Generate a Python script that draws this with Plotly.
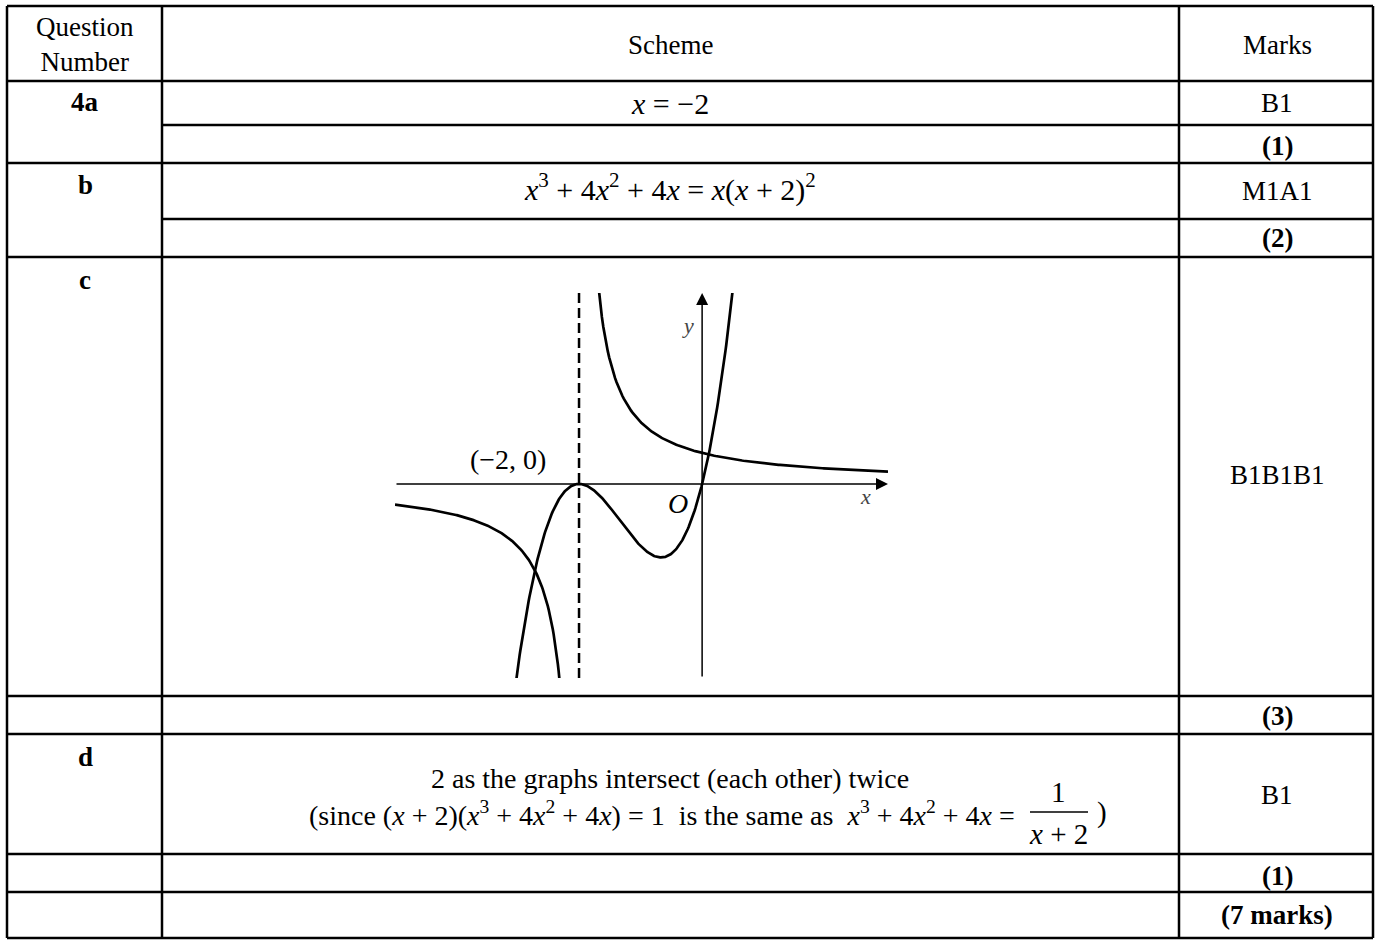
import numpy as np
import plotly.graph_objects as go

# page size in pixels
W, H = 1377, 940

header = ["Question<br>Number", "Scheme", "Marks"]
parts = ["4a", "b", "c", "d"]
marks = ["B1", "M1A1", "B1B1B1", "B1"]
subtotals = ["(1)", "(2)", "(3)", "(1)"]
total = "(7 marks)"

answer_a = "<i>x</i> = −2"
answer_b = "<i>x</i><sup>3</sup> + 4<i>x</i><sup>2</sup> + 4<i>x</i> = <i>x</i>(<i>x</i> + 2)<sup>2</sup>"
answer_d1 = "2 as the graphs intersect (each other) twice"
answer_d2 = ("(since (<i>x</i> + 2)(<i>x</i><sup>3</sup> + 4<i>x</i><sup>2</sup> + 4<i>x</i>) = 1 "
             " is the same as  <i>x</i><sup>3</sup> + 4<i>x</i><sup>2</sup> + 4<i>x</i> = ")

# sketch in part c: y = x(x+2)^2 and y = 1/(x+2), asymptote x = -2
x_cubic = np.linspace(-3.1, 0.55, 300)
y_cubic = x_cubic * (x_cubic + 2) ** 2
x_hyp_left = np.linspace(-4.99, -2.29, 200)
x_hyp_right = np.linspace(-1.70, 3.02, 200)
touch_point = (-2, 0)

x_range = [-4.99, 3.02]
y_range = [-3.13, 3.08]

FONT = "Liberation Serif, Times New Roman, serif"


def px(x):
    return x / W


def py(y):
    return 1 - y / H


fig = go.Figure()

line = dict(color="black", width=2.7)
fig.add_trace(go.Scatter(x=x_cubic, y=y_cubic, mode="lines", line=line))
fig.add_trace(go.Scatter(x=x_hyp_left, y=1 / (x_hyp_left + 2), mode="lines", line=line))
fig.add_trace(go.Scatter(x=x_hyp_right, y=1 / (x_hyp_right + 2), mode="lines", line=line))
fig.add_trace(go.Scatter(x=[touch_point[0]] * 2, y=y_range, mode="lines",
                         line=dict(color="black", width=2.5, dash="10px,5px")))

anns = []
# axes with arrows
anns.append(dict(x=x_range[1], y=0, ax=x_range[0], ay=0, xref="x", yref="y", axref="x", ayref="y",
                 text="", showarrow=True, arrowhead=2, arrowsize=1.6, arrowwidth=1.5, arrowcolor="black"))
anns.append(dict(x=0, y=y_range[1], ax=0, ay=y_range[0], xref="x", yref="y", axref="x", ayref="y",
                 text="", showarrow=True, arrowhead=2, arrowsize=1.6, arrowwidth=1.5, arrowcolor="black"))
anns.append(dict(x=-3.15, y=0.39, xref="x", yref="y", text="(−2, 0)", showarrow=False,
                 font=dict(family=FONT, size=28, color="black")))
anns.append(dict(x=-0.39, y=-0.31, xref="x", yref="y", text="<i>O</i>", showarrow=False,
                 font=dict(family=FONT, size=28, color="black")))
anns.append(dict(x=2.65, y=-0.21, xref="x", yref="y", text="<i>x</i>", showarrow=False,
                 font=dict(family=FONT, size=22, color="#444")))
anns.append(dict(x=-0.23, y=2.56, xref="x", yref="y", text="<i>y</i>", showarrow=False,
                 font=dict(family=FONT, size=22, color="#444")))


def text(x, y, s, size=27, bold=False, xanchor="center"):
    if bold:
        s = "<b>" + s + "</b>"
    anns.append(dict(x=px(x), y=py(y), xref="paper", yref="paper", text=s, showarrow=False,
                     xanchor=xanchor, yanchor="middle", font=dict(family=FONT, size=size, color="black")))


# header
text(85, 45, header[0])
text(670, 45, header[1])
text(1277, 45, header[2])

# question labels
for label, y in zip(parts, [102, 185, 280, 757]):
    text(85, y, label, bold=True)

# marks
for m, y in zip(marks, [103, 191, 475, 795]):
    text(1277, y, m)
for s, y in zip(subtotals, [146, 238, 716, 876]):
    text(1277, y, s, bold=True)
text(1277, 915, total, bold=True)

# scheme text
text(670, 104, answer_a, size=30)
text(670, 188, answer_b, size=30)
text(670, 778, answer_d1, size=28)
text(1024, 813, answer_d2, size=28, xanchor="right")
text(1058, 792, "1", size=29)
text(1058, 834, "<i>x</i> + 2", size=29)
text(1102, 812, ")", size=29)

shapes = []


def hline(y, x0=7, x1=1373, w=2.5):
    shapes.append(dict(type="line", xref="paper", yref="paper", x0=px(x0), x1=px(x1), y0=py(y), y1=py(y),
                       line=dict(color="black", width=w)))


def vline(x, y0=6, y1=938, w=2.5):
    shapes.append(dict(type="line", xref="paper", yref="paper", x0=px(x), x1=px(x), y0=py(y0), y1=py(y1),
                       line=dict(color="black", width=w)))


for y in [6, 81, 163, 257, 696, 734, 854, 892, 938]:
    hline(y)
for y in [125, 219]:
    hline(y, x0=162)
for x in [7, 162, 1179, 1373]:
    vline(x)
# fraction bar
hline(812, x0=1030, x1=1088, w=1.5)

fig.update_layout(
    width=W, height=H,
    margin=dict(l=0, r=0, t=0, b=0),
    paper_bgcolor="white", plot_bgcolor="white",
    showlegend=False,
    xaxis=dict(domain=[px(395), px(888)], range=x_range, visible=False, fixedrange=True),
    yaxis=dict(domain=[py(678), py(293)], range=y_range, visible=False, fixedrange=True),
    annotations=anns,
    shapes=shapes,
)

fig.write_html("out.html", config={"displayModeBar": False},
               post_script="document.body.style.margin='0';document.body.style.overflow='hidden';")
